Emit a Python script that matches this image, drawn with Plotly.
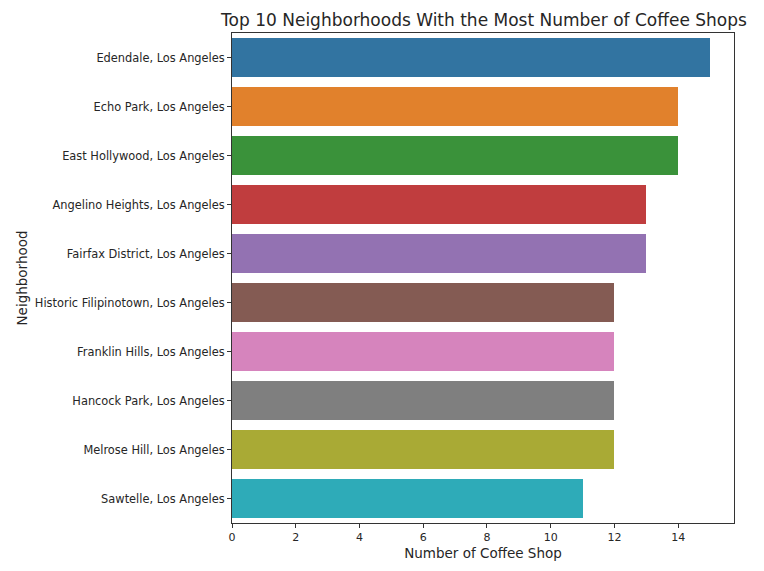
import plotly.graph_objects as go

neighborhoods = [
    "Edendale, Los Angeles",
    "Echo Park, Los Angeles",
    "East Hollywood, Los Angeles",
    "Angelino Heights, Los Angeles",
    "Fairfax District, Los Angeles",
    "Historic Filipinotown, Los Angeles",
    "Franklin Hills, Los Angeles",
    "Hancock Park, Los Angeles",
    "Melrose Hill, Los Angeles",
    "Sawtelle, Los Angeles",
]
counts = [15, 14, 14, 13, 13, 12, 12, 12, 12, 11]
colors = ["#3274a1", "#e1812c", "#3a923a", "#c03d3e", "#9372b2",
          "#845b53", "#d684bd", "#7f7f7f", "#a9aa35", "#2eabb8"]
x_ticks = [0, 2, 4, 6, 8, 10, 12, 14]

fig = go.Figure(go.Bar(
    x=counts, y=neighborhoods, orientation="h",
    marker=dict(color=colors, line=dict(width=0)),
    width=0.8,
))

font_family = "DejaVu Sans"
text_color = "#262626"

fig.update_layout(
    width=764, height=571,
    margin=dict(l=232, r=30, t=33, b=48),
    plot_bgcolor="white", paper_bgcolor="white",
    font=dict(family=font_family, color=text_color, size=11),
    title=dict(text="Top 10 Neighborhoods With the Most Number of Coffee Shops",
               x=(222 + 746) / 2 / 764, xanchor="center",
               y=1 - 20 / 571, yanchor="middle",
               font=dict(size=17, family=font_family, color=text_color)),
    showlegend=False,
    bargap=0,
)
fig.update_xaxes(
    range=[0, 15.75], tickvals=x_ticks, ticks="outside", ticklen=4, tickcolor="#333",
    showgrid=False, zeroline=False, showline=True, linecolor="#333", linewidth=1, mirror=True,
    title=dict(text="Number of Coffee Shop", font=dict(size=13.5), standoff=5),
    tickfont=dict(size=11),
)
fig.update_yaxes(
    categoryorder="array", categoryarray=neighborhoods, autorange="reversed",
    ticks="outside", ticklen=4, tickcolor="#333",
    showgrid=False, zeroline=False, showline=True, linecolor="#333", linewidth=1, mirror=True,
    title=dict(text="Neighborhood", font=dict(size=13.5), standoff=4),
    tickfont=dict(size=11.4),
)

fig.write_html("out.html")
